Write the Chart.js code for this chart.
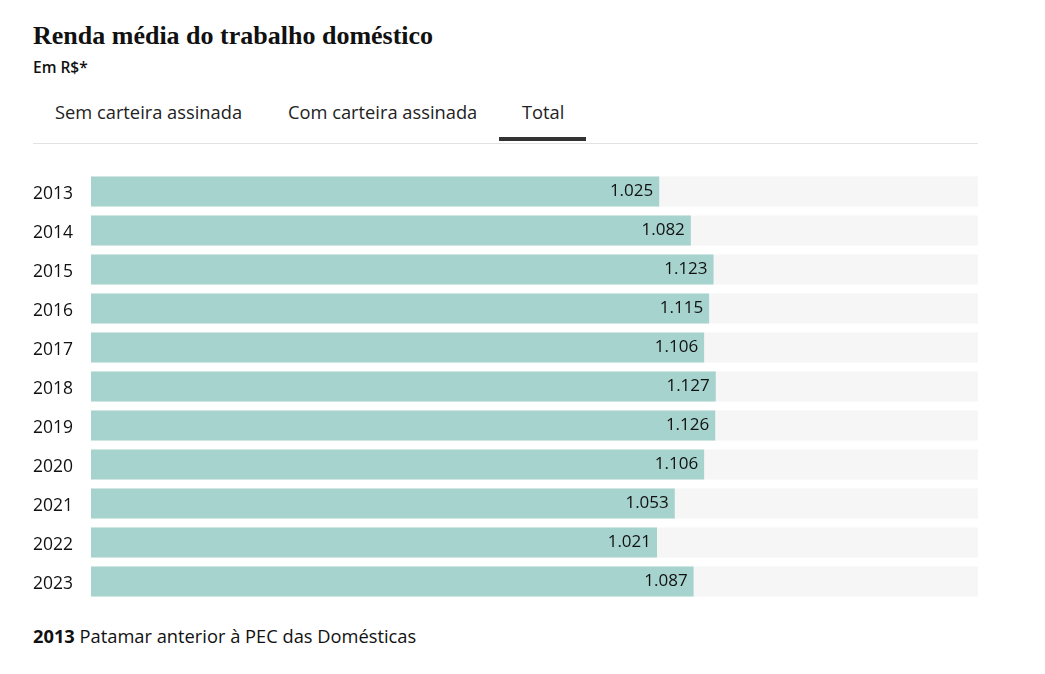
<!DOCTYPE html>
<html>
<head>
<meta charset="utf-8">
<script src="https://cdn.jsdelivr.net/npm/chart.js@4"></script>
<style>
  body { margin: 0; background: #fff; font-family: "Open Sans", sans-serif; color: #111; }
  .title { position: absolute; left: 33px; top: 21px; font-family: "Liberation Serif", serif; font-weight: bold; font-size: 26px; }
  .sub { position: absolute; left: 33px; top: 56px; font-size: 15.5px; font-weight: 600; }
  .tab { position: absolute; top: 99px; font-size: 18.3px; color: #222; }
  .underline { position: absolute; left: 499px; top: 137px; width: 87px; height: 4px; background: #333; }
  .divider { position: absolute; left: 33px; top: 143px; width: 945px; height: 1px; background: #e2e2e2; }
  .chartbox { position: absolute; left: 33px; top: 172px; }
  .foot { position: absolute; left: 33px; top: 623px; font-size: 18.3px; }
</style>
</head>
<body>
<div class="title">Renda média do trabalho doméstico</div>
<div class="sub">Em R$*</div>
<div class="tab" style="left:55px">Sem carteira assinada</div>
<div class="tab" style="left:288px">Com carteira assinada</div>
<div class="tab" style="left:522px">Total</div>
<div class="underline"></div>
<div class="divider"></div>
<div class="chartbox"><canvas id="myChart" width="945" height="429"></canvas></div>
<div class="foot"><b>2013</b> Patamar anterior à PEC das Domésticas</div>
<script>
const years = ["2013", "2014", "2015", "2016", "2017", "2018", "2019", "2020", "2021", "2022", "2023"];
const renda = [1025, 1082, 1123, 1115, 1106, 1127, 1126, 1106, 1053, 1021, 1087];
const maxValue = 1600;

const trackAndLabels = {
  id: 'trackAndLabels',
  beforeDatasetsDraw(chart) {
    const ctx = chart.ctx;
    const area = chart.chartArea;
    ctx.save();
    ctx.fillStyle = '#f6f6f6';
    chart.getDatasetMeta(0).data.forEach(bar => {
      ctx.fillRect(area.left, bar.y - bar.height / 2, area.right - area.left, bar.height);
    });
    ctx.restore();
  },
  afterDatasetsDraw(chart) {
    const ctx = chart.ctx;
    ctx.save();
    ctx.font = '17px "Open Sans"';
    ctx.fillStyle = '#111';
    ctx.textAlign = 'right';
    ctx.textBaseline = 'middle';
    chart.getDatasetMeta(0).data.forEach((bar, i) => {
      ctx.fillText(renda[i].toLocaleString('pt-BR'), bar.x - 6, bar.y);
    });
    ctx.restore();
  }
};

new Chart(document.getElementById('myChart'), {
  type: 'bar',
  data: {
    labels: years,
    datasets: [{
      data: renda,
      backgroundColor: '#a6d3ce',
      barPercentage: 30 / 39,
      categoryPercentage: 1
    }]
  },
  options: {
    indexAxis: 'y',
    responsive: false,
    animation: false,
    layout: { padding: 0 },
    plugins: { legend: { display: false }, tooltip: { enabled: false } },
    scales: {
      x: { min: 0, max: maxValue, display: false },
      y: {
        grid: { display: false },
        border: { display: false },
        afterFit(scale) {
          scale.width = 58;
          scale.paddingTop = 0;
          scale.paddingBottom = 0;
        },
        ticks: {
          color: '#111',
          font: { family: 'Open Sans', size: 17.5 },
          crossAlign: 'far',
          labelOffset: 3
        }
      }
    }
  },
  plugins: [trackAndLabels]
});
</script>
</body>
</html>
